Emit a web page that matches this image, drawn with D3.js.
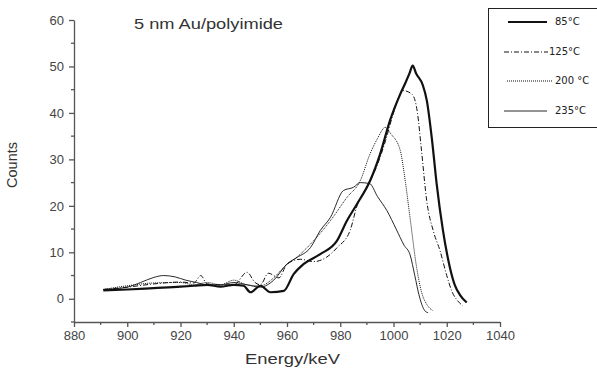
<!DOCTYPE html>
<html>
<head>
<meta charset="utf-8">
<script src="https://cdn.jsdelivr.net/npm/d3@7"></script>
<style>
  body { margin: 0; background: #fff; }
  svg { font-family: "Liberation Sans", Arial, sans-serif; }
  .axis path, .axis line { stroke: #555; stroke-width: 1.3; }
  .axis text { fill: #444; font-size: 13px; }
</style>
</head>
<body>
<svg id="chart" width="597" height="369"></svg>
<script>
// energies (keV) and counts
var e85 = [891, 900, 910, 920, 925, 930, 935, 940, 943.7, 946.3, 950, 953.8, 958.8, 962.5, 966.3, 972.5, 978.8, 982.5, 986.3, 991.2, 995, 998.7, 1002.5, 1004.5, 1006, 1007.2, 1008.5, 1011, 1012.5, 1014.5, 1016.2, 1018.5, 1021.2, 1023, 1025, 1027.5];
var c85 = [1.8, 2.0, 2.3, 2.6, 2.8, 3.0, 2.6, 3.0, 2.8, 1.4, 2.8, 1.4, 1.7, 5.3, 7.5, 9.6, 12.5, 16.8, 20.4, 25.4, 31.2, 38.4, 44, 46.5, 48.5, 50.2, 48.5, 46, 42.7, 34, 24.8, 15, 6.7, 3, 0.8, -0.8];

var e125 = [891, 900, 910, 920, 925, 927.6, 930, 935, 940, 945, 948, 950, 953, 957, 960, 965, 970, 975, 978.8, 983.7, 986.3, 990, 993.7, 997, 1000, 1003.6, 1007, 1009, 1010.5, 1012.5, 1015, 1017.5, 1020, 1022, 1024.2, 1026];
var c125 = [2.0, 2.5, 3.2, 3.6, 3.4, 5.0, 3.2, 3.0, 3.0, 5.7, 3.5, 3.0, 5.5, 4.5, 7.5, 8.5, 8.0, 9.0, 11.0, 14.7, 20, 24, 28.5, 34, 40, 44.8, 44, 40, 32, 21, 14.5, 10.3, 5, 1.5, -0.5, -1.5];

var e200 = [891, 900, 910, 920, 925, 930, 935, 940, 945, 950, 955, 958.7, 965, 970, 976.3, 982.5, 987.5, 991.2, 994, 996.9, 999, 1002.5, 1004.5, 1006.2, 1008.7, 1010.5, 1012.5, 1014.9];
var c200 = [2.0, 2.8, 3.4, 3.5, 3.0, 3.5, 3.0, 4.0, 3.0, 2.8, 4.5, 6.7, 9.6, 12.5, 16.8, 21.8, 25.4, 31.2, 34.5, 36.9, 35.5, 32, 25, 17.5, 6.7, 1.5, -1.2, -2.6];

var e235 = [891, 900, 905, 910, 913.7, 918, 922, 926, 930, 935, 940, 945, 950, 955, 960, 963.8, 968.8, 972.5, 976.3, 981.2, 985, 987.5, 991, 994, 997.5, 1001, 1004, 1006.2, 1008, 1009.5, 1011.8, 1013];
var c235 = [2.0, 2.5, 3.5, 4.6, 5.0, 4.7, 4.0, 3.5, 3.0, 3.0, 3.5, 3.0, 2.5, 4.0, 7.5, 8.9, 11.0, 14.7, 17.5, 23.3, 24.0, 25.0, 24.8, 22.0, 19.0, 15.0, 11.5, 9.5, 5.0, 1.0, -2.6, -3.0];

var seriesNames = ["85°C", "125°C", "200 °C", "235°C"];
var xTicks = [880, 900, 920, 940, 960, 980, 1000, 1020, 1040];
var yTicks = [0, 10, 20, 30, 40, 50, 60];

var series = [
  {name: seriesNames[0], e: e85, c: c85, width: 2.2, dash: null},
  {name: seriesNames[1], e: e125, c: c125, width: 1, dash: "5,2,1,2"},
  {name: seriesNames[2], e: e200, c: c200, width: 1, dash: "1,1"},
  {name: seriesNames[3], e: e235, c: c235, width: 0.9, dash: null}
];

var svg = d3.select("#chart");

var x = d3.scaleLinear().domain([880, 1040]).range([74, 500]);
var y = d3.scaleLinear().domain([-5, 60]).range([322, 20]);

// x axis
var xAxis = svg.append("g")
  .attr("class", "axis")
  .attr("transform", "translate(0," + y(-5) + ")")
  .call(d3.axisBottom(x).tickValues(xTicks).tickFormat(d3.format("d"))
    .tickSize(5).tickSizeOuter(0).tickPadding(4));
xAxis.selectAll(".minor")
  .data(d3.range(890, 1040, 20))
  .enter().append("line")
  .attr("x1", function(d) { return x(d); })
  .attr("x2", function(d) { return x(d); })
  .attr("y1", 0).attr("y2", 3);

// y axis
var yAxis = svg.append("g")
  .attr("class", "axis")
  .attr("transform", "translate(" + x(880) + ",0)")
  .call(d3.axisLeft(y).tickValues(yTicks).tickSize(5).tickSizeOuter(0).tickPadding(5));
yAxis.selectAll(".minor")
  .data(d3.range(-5, 60, 10))
  .enter().append("line")
  .attr("y1", function(d) { return y(d); })
  .attr("y2", function(d) { return y(d); })
  .attr("x1", 0).attr("x2", -3);

// curves
var line = d3.line()
  .x(function(d) { return x(d[0]); })
  .y(function(d) { return y(d[1]); })
  .curve(d3.curveMonotoneX);

series.forEach(function(s) {
  svg.append("path")
    .datum(d3.zip(s.e, s.c))
    .attr("fill", "none")
    .attr("stroke", "#111")
    .attr("stroke-width", s.width)
    .attr("stroke-dasharray", s.dash)
    .attr("d", line);
});

// labels (the scan is a bit stretched sideways, hence textLength)
svg.append("text")
  .attr("x", 245).attr("y", 364)
  .attr("font-size", 15.5).attr("fill", "#333")
  .attr("textLength", 95).attr("lengthAdjust", "spacingAndGlyphs")
  .text("Energy/keV");

svg.append("text")
  .attr("transform", "translate(17,165) rotate(-90)")
  .attr("text-anchor", "middle")
  .attr("font-size", 14.5).attr("fill", "#333")
  .text("Counts");

svg.append("text")
  .attr("x", 134).attr("y", 29)
  .attr("font-size", 14.5).attr("fill", "#333")
  .attr("textLength", 149).attr("lengthAdjust", "spacingAndGlyphs")
  .text("5 nm Au/polyimide");

// legend
var legend = svg.append("g");
legend.append("rect")
  .attr("x", 488.5).attr("y", 8.5)
  .attr("width", 120).attr("height", 119)
  .attr("fill", "#fff").attr("stroke", "#222");

var legY = [22, 52, 81, 111];
var legX1 = [508, 504, 507, 504];
var legX2 = [547, 548, 553, 547];
var legTx = [555, 549, 555, 555];
series.forEach(function(s, i) {
  legend.append("line")
    .attr("x1", legX1[i]).attr("x2", legX2[i])
    .attr("y1", legY[i]).attr("y2", legY[i])
    .attr("stroke", "#111")
    .attr("stroke-width", s.width)
    .attr("stroke-dasharray", s.dash);
  legend.append("text")
    .attr("x", legTx[i]).attr("y", legY[i] + 3)
    .attr("font-size", 10).attr("fill", "#222")
    .attr("font-family", "DejaVu Sans")
    .text(s.name);
});
</script>
</body>
</html>
